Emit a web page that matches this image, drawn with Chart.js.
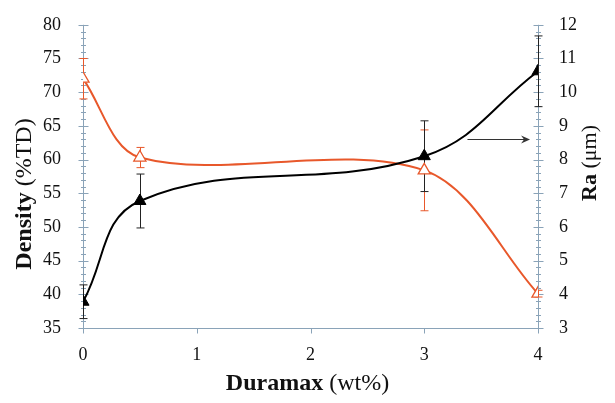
<!DOCTYPE html>
<html>
<head>
<meta charset="utf-8">
<script src="https://cdn.jsdelivr.net/npm/chart.js@4.4.0/dist/chart.umd.min.js"></script>
<style>
  html, body { margin: 0; padding: 0; background: #fff; }
  #wrap { width: 615px; height: 403px; }
</style>
</head>
<body>
<div id="wrap"><canvas id="chart" width="615" height="403"></canvas></div>
<script>
// Data
const duramax = [0, 0.5, 3, 4];
const density = [72, 60.3, 58.4, 40.1];      // %TD, left axis
const densityErr = [3, 1.5, 6, 0.5];
const ra = [3.78, 6.77, 8.1, 10.62];         // um, right axis
const raErr = [0.5, 0.8, 1.05, 1.05];
const arrowFrom = [3.38, 8.6];
const arrowTo = [3.93, 8.6];

const ORANGE = '#e8582b';
const AXIS = '#8aa3b8';
const SERIF = '"Liberation Serif", "Times New Roman", serif';

function toPoints(xs, ys) {
    return xs.map((x, i) => ({ x, y: ys[i] }));
}

// Error bars, tick marks, arrow and axis titles
const decorPlugin = {
    id: 'decor',
    beforeDatasetsDraw(chart) {
        const { ctx, scales } = chart;
        const x = scales.x;
        const bars = [
            { vals: density, errs: densityErr, scale: scales.y, color: ORANGE },
            { vals: ra, errs: raErr, scale: scales.y2, color: '#222' }
        ];
        ctx.save();
        ctx.lineWidth = 1;
        bars.forEach(b => {
            ctx.strokeStyle = b.color;
            b.vals.forEach((v, i) => {
                const px = Math.round(x.getPixelForValue(duramax[i])) + 0.5;
                const top = b.scale.getPixelForValue(v + b.errs[i]);
                const bot = b.scale.getPixelForValue(v - b.errs[i]);
                ctx.beginPath();
                ctx.moveTo(px, top);
                ctx.lineTo(px, bot);
                ctx.moveTo(px - 4, top);
                ctx.lineTo(px + 4, top);
                ctx.moveTo(px - 4, bot);
                ctx.lineTo(px + 4, bot);
                ctx.stroke();
            });
        });
        ctx.restore();
    },
    beforeDraw(chart) {
        const { ctx, chartArea: a, scales } = chart;
        ctx.save();
        ctx.strokeStyle = AXIS;
        ctx.lineWidth = 1;
        const L = Math.round(a.left) + 0.5, R = Math.round(a.right) + 0.5, B = Math.round(a.bottom) + 0.5;
        ctx.beginPath();
        ctx.moveTo(L, a.top); ctx.lineTo(L, B);
        ctx.moveTo(R, a.top); ctx.lineTo(R, B);
        ctx.moveTo(L, B); ctx.lineTo(R, B);
        // left ticks: major every 5, minor every 1
        for (let v = 35; v <= 80; v += 1) {
            const py = Math.round(scales.y.getPixelForValue(v)) + 0.5;
            const len = v % 5 === 0 ? 5 : 2.5;
            ctx.moveTo(L - len, py); ctx.lineTo(L + len, py);
        }
        // right ticks: major every 1, minor every 0.2
        for (let k = 0; k <= 45; k++) {
            const v = 3 + k * 0.2;
            const py = Math.round(scales.y2.getPixelForValue(v)) + 0.5;
            const len = k % 5 === 0 ? 5 : 2.5;
            ctx.moveTo(R - len, py); ctx.lineTo(R + len, py);
        }
        // x ticks
        for (let v = 0; v <= 4; v++) {
            const px = Math.round(scales.x.getPixelForValue(v)) + 0.5;
            ctx.moveTo(px, B); ctx.lineTo(px, B + 5);
        }
        ctx.stroke();
        ctx.restore();
    },
    afterDraw(chart) {
        const { ctx, chartArea: a, scales } = chart;
        ctx.save();
        // arrow pointing to the Ra axis
        const x1 = scales.x.getPixelForValue(arrowFrom[0]);
        const x2 = scales.x.getPixelForValue(arrowTo[0]);
        const y1 = Math.round(scales.y2.getPixelForValue(arrowFrom[1])) + 0.5;
        ctx.strokeStyle = '#333';
        ctx.fillStyle = '#333';
        ctx.lineWidth = 1.2;
        ctx.beginPath();
        ctx.moveTo(x1, y1); ctx.lineTo(x2 - 4, y1);
        ctx.stroke();
        ctx.beginPath();
        ctx.moveTo(x2, y1);
        ctx.lineTo(x2 - 9, y1 - 4);
        ctx.lineTo(x2 - 6, y1);
        ctx.lineTo(x2 - 9, y1 + 4);
        ctx.closePath();
        ctx.fill();

        // axis titles with bold + regular parts
        ctx.fillStyle = '#111';
        ctx.textBaseline = 'middle';
        function mixedTitle(bold, normal, cx, cy, size, rot) {
            ctx.save();
            ctx.translate(cx, cy);
            ctx.rotate(rot);
            ctx.font = 'bold ' + size + 'px ' + SERIF;
            const wb = ctx.measureText(bold).width;
            ctx.font = size + 'px ' + SERIF;
            const wn = ctx.measureText(normal).width;
            const start = -(wb + wn) / 2;
            ctx.textAlign = 'left';
            ctx.font = 'bold ' + size + 'px ' + SERIF;
            ctx.fillText(bold, start, 0);
            ctx.font = size + 'px ' + SERIF;
            ctx.fillText(normal, start + wb, 0);
            ctx.restore();
        }
        mixedTitle('Duramax', ' (wt%)', (a.left + a.right) / 2 - 3, 384, 24, 0);
        mixedTitle('Density', ' (%TD)', 25, 194, 24, -Math.PI / 2);
        mixedTitle('Ra', ' (\u03bcm)', 590, 163, 22, -Math.PI / 2);
        ctx.restore();
    }
};

const ctx = document.getElementById('chart');
new Chart(ctx, {
    type: 'line',
    data: {
        datasets: [
            {
                label: 'Ra',
                data: toPoints(duramax, ra),
                yAxisID: 'y2',
                borderColor: '#000',
                borderWidth: 2,
                tension: 0.4,
                pointStyle: 'triangle',
                pointRadius: 7,
                pointBackgroundColor: '#000',
                pointBorderColor: '#000',
                pointBorderWidth: 1
            },
            {
                label: 'Density',
                data: toPoints(duramax, density),
                yAxisID: 'y',
                borderColor: ORANGE,
                borderWidth: 2,
                tension: 0.33,
                pointStyle: 'triangle',
                pointRadius: 7,
                pointBackgroundColor: '#fff',
                pointBorderColor: ORANGE,
                pointBorderWidth: 1.3
            }
        ]
    },
    options: {
        responsive: false,
        animation: false,
        layout: { padding: { top: 15, left: 0, right: 0, bottom: 0 } },
        plugins: {
            legend: { display: false },
            tooltip: { enabled: false }
        },
        scales: {
            x: {
                type: 'linear',
                min: 0,
                max: 4,
                grid: { display: false },
                border: { display: false },
                ticks: { stepSize: 1, padding: 8, color: '#111', font: { family: SERIF, size: 18 } },
                afterFit: s => { s.height = 75; }
            },
            y: {
                position: 'left',
                min: 35,
                max: 80,
                grid: { display: false },
                border: { display: false },
                ticks: { stepSize: 5, padding: 14, color: '#111', font: { family: SERIF, size: 18 } },
                afterFit: s => { s.width = 83; }
            },
            y2: {
                position: 'right',
                min: 3,
                max: 12,
                grid: { display: false },
                border: { display: false },
                ticks: { stepSize: 1, padding: 13, color: '#111', font: { family: SERIF, size: 18 } },
                afterFit: s => { s.width = 77; }
            }
        }
    },
    plugins: [decorPlugin]
});
</script>
</body>
</html>
